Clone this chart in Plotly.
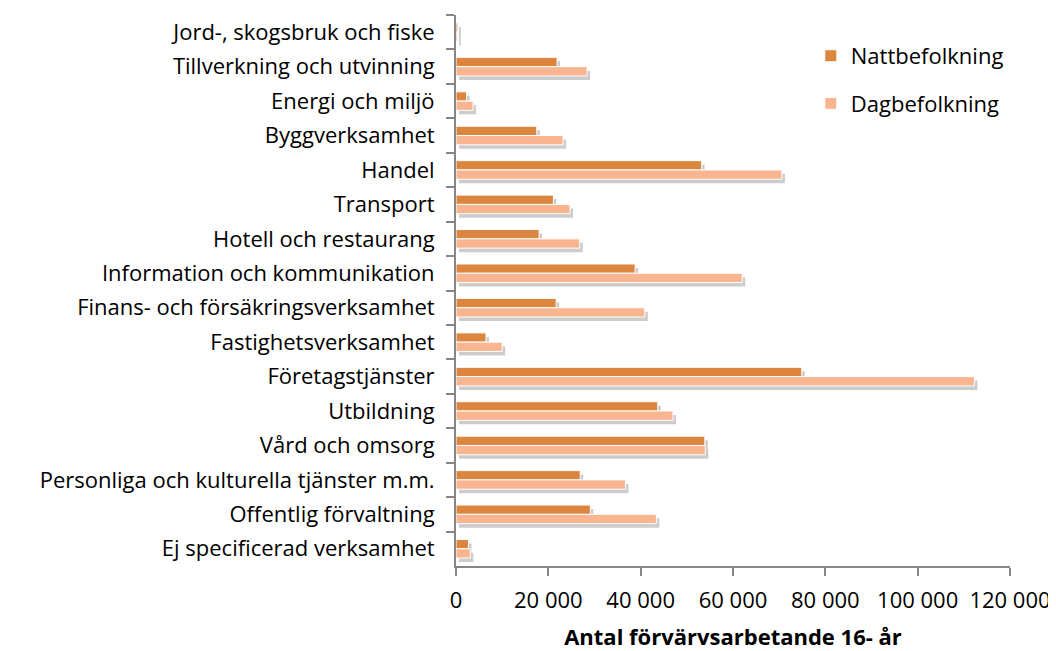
import plotly.graph_objects as go

categories = [
    "Jord-, skogsbruk och fiske",
    "Tillverkning och utvinning",
    "Energi och miljö",
    "Byggverksamhet",
    "Handel",
    "Transport",
    "Hotell och restaurang",
    "Information och kommunikation",
    "Finans- och försäkringsverksamhet",
    "Fastighetsverksamhet",
    "Företagstjänster",
    "Utbildning",
    "Vård och omsorg",
    "Personliga och kulturella tjänster m.m.",
    "Offentlig förvaltning",
    "Ej specificerad verksamhet",
]
natt = [400, 21900, 2300, 17500, 53200, 21100, 18000, 38800, 21700, 6500,
        74900, 43700, 53900, 26900, 29100, 2700]
dag = [350, 28400, 3700, 23200, 70600, 24700, 26800, 62000, 40900, 10000,
       112300, 47000, 54000, 36700, 43400, 3100]
x_ticks = [0, 20000, 40000, 60000, 80000, 100000, 120000]

FONT = "Open Sans"
NATT_COLOR = "#DC853F"
DAG_COLOR = "#F9B58F"
SHADOW = "rgba(0,0,0,0.2)"
AXIS_COLOR = "#868686"

# plot area geometry (px): main area 554 x 551, shadow shifted by (SX, SY)
PW, PH = 557, 555
SX, SY = 3, 4

fig = go.Figure()
# soft drop shadows (same data, slightly offset axes)
for vals in (natt, dag):
    fig.add_trace(go.Bar(
        y=categories, x=vals, orientation="h", showlegend=False,
        marker=dict(color=SHADOW, line=dict(width=0)),
        hoverinfo="skip", xaxis="x", yaxis="y",
    ))
fig.add_trace(go.Bar(
    y=categories, x=natt, orientation="h", name="Nattbefolkning",
    marker=dict(color=NATT_COLOR, line=dict(color="white", width=1)),
    legendgroup="a", xaxis="x2", yaxis="y2",
))
fig.add_trace(go.Bar(
    y=categories, x=dag, orientation="h", name="Dagbefolkning",
    marker=dict(color=DAG_COLOR, line=dict(color="white", width=1)),
    legendgroup="b", xaxis="x2", yaxis="y2",
))

hidden = dict(visible=False, showgrid=False, zeroline=False)
fig.update_layout(
    width=1048, height=643,
    margin=dict(l=448, r=1048 - 448 - PW, t=7, b=643 - 7 - PH),
    barmode="group", bargap=0.46, bargroupgap=0,
    plot_bgcolor="rgba(0,0,0,0)", paper_bgcolor="white",
    separators=", ",
    font=dict(family=FONT, size=22, color="#000000"),
    legend=dict(x=0.637, y=0.964, xanchor="left", yanchor="top",
                font=dict(family=FONT, size=22), tracegroupgap=16,
                bgcolor="rgba(0,0,0,0)"),
    xaxis=dict(hidden, range=[0, 120000], domain=[SX / PW, 1], anchor="y"),
    yaxis=dict(hidden, autorange="reversed", domain=[0, 1 - SY / PH],
               anchor="x"),
    xaxis2=dict(
        range=[0, 120000], tickvals=x_ticks, tickformat=",d",
        domain=[0, 1 - SX / PW], anchor="y2",
        showgrid=False, zeroline=False,
        showline=True, linecolor=AXIS_COLOR, linewidth=2,
        ticks="outside", ticklen=8, tickcolor=AXIS_COLOR, tickwidth=2,
        tickfont=dict(family=FONT, size=22), automargin=False,
        ticklabelstandoff=6,
        title=dict(text="<b>Antal förvärvsarbetande 16- år</b>",
                   font=dict(family=FONT, size=22), standoff=16),
    ),
    yaxis2=dict(
        autorange="reversed", showgrid=False, zeroline=False,
        domain=[SY / PH, 1], anchor="x2",
        showline=True, linecolor=AXIS_COLOR, linewidth=2,
        ticks="outside", ticklen=8, tickcolor=AXIS_COLOR, tickwidth=2,
        tickson="boundaries", automargin=False, ticklabelstandoff=15,
        tickfont=dict(family=FONT, size=22),
    ),
)
fig.write_html("out.html")
